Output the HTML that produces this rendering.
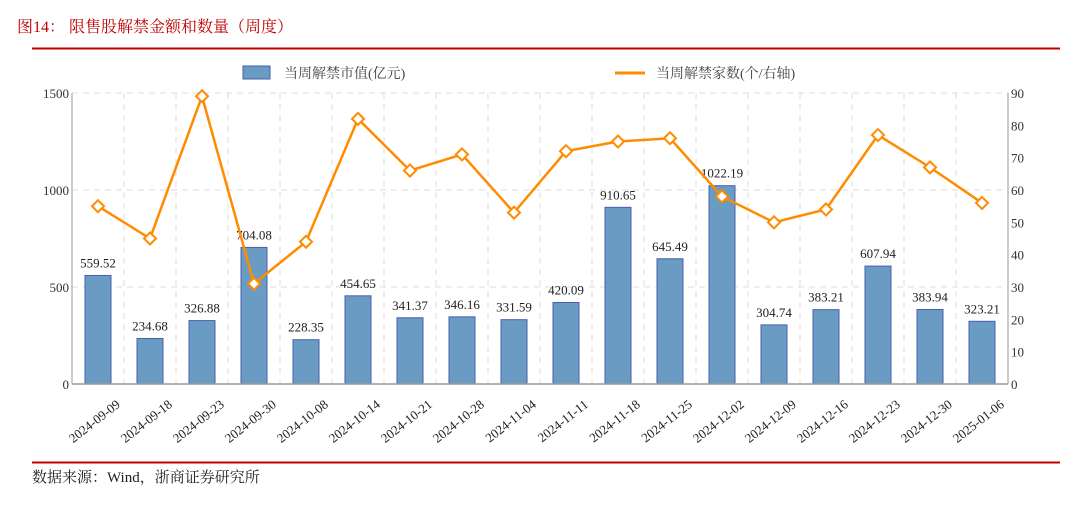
<!DOCTYPE html>
<html><head><meta charset="utf-8"><style>
body{margin:0;background:#fff;}
svg text{font-family:"Liberation Serif","Noto Serif CJK SC",serif;}
</style></head><body>
<svg width="1080" height="506" viewBox="0 0 1080 506" xmlns="http://www.w3.org/2000/svg">
<text x="17" y="32" font-size="16" fill="#c00000">图14：  限售股解禁金额和数量（周度）</text>
<line x1="32" y1="48.5" x2="1060" y2="48.5" stroke="#c00000" stroke-width="2"/>
<g>
<rect x="243" y="66" width="27" height="13" fill="#6a9bc3" stroke="#4a5fb0"/>
<text x="284" y="78" font-size="14" fill="#444">当周解禁市值(亿元)</text>
<line x1="615" y1="73" x2="645" y2="73" stroke="#ff8c00" stroke-width="3"/>
<text x="656" y="78" font-size="14" fill="#444">当周解禁家数(个/右轴)</text>
</g>
<g id="plot"></g>
<line x1="32" y1="462.5" x2="1060" y2="462.5" stroke="#c00000" stroke-width="2"/>
<text x="32" y="482" font-size="15" fill="#222">数据来源：Wind，浙商证券研究所</text>
</svg>
<script>
const categories=["2024-09-09","2024-09-18","2024-09-23","2024-09-30","2024-10-08","2024-10-14","2024-10-21","2024-10-28","2024-11-04","2024-11-11","2024-11-18","2024-11-25","2024-12-02","2024-12-09","2024-12-16","2024-12-23","2024-12-30","2025-01-06"];
const amounts=[559.52,234.68,326.88,704.08,228.35,454.65,341.37,346.16,331.59,420.09,910.65,645.49,1022.19,304.74,383.21,607.94,383.94,323.21];
const counts=[55,45,89,31,44,82,66,71,53,72,75,76,58,50,54,77,67,56];
const leftTicks=[0,500,1000,1500];
const rightTicks=[0,10,20,30,40,50,60,70,80,90];
const NS="http://www.w3.org/2000/svg";
const g=document.getElementById('plot');
const X0=72,X1=1008,Y0=384,Y1=93;
const bw=(X1-X0)/categories.length;
const xc=i=>X0+bw*(i+0.5);
const yL=v=>Y0-(v/1500)*(Y0-Y1);
const yR=v=>Y0-(v/90)*(Y0-Y1);
function mk(t,a){const e=document.createElementNS(NS,t);for(const k in a)e.setAttribute(k,a[k]);g.appendChild(e);return e;}
leftTicks.forEach(v=>{if(v>0){const l=mk('line',{x1:X0,x2:X1,y1:yL(v),y2:yL(v),stroke:'#ddd','stroke-dasharray':'6,5'});

}
const t=mk('text',{x:X0-3,y:yL(v)+5,'font-size':13,'text-anchor':'end',fill:'#333'});t.textContent=v;

});
for(let i=1;i<categories.length;i++){const l=mk('line',{x1:X0+bw*i,x2:X0+bw*i,y1:Y1,y2:Y0,stroke:'#ddd','stroke-dasharray':'6,5'});

}
rightTicks.forEach(v=>{const t=mk('text',{x:X1+3,y:yR(v)+5,'font-size':13,fill:'#333'});t.textContent=v;

});
amounts.forEach((v,i)=>{const r=mk('rect',{x:xc(i)-13,y:yL(v),width:26,height:Y0-yL(v),fill:'#6a9bc3',stroke:'#4a5fb0','stroke-width':1});


const t=mk('text',{x:xc(i),y:yL(v)-8,'font-size':13,'text-anchor':'middle',fill:'#222'});t.textContent=v.toFixed(2);


const c=mk('text',{x:0,y:0,'font-size':13,'text-anchor':'end',fill:'#222',transform:`translate(${xc(i)+23},${Y0+22}) rotate(-38)`});c.textContent=categories[i];

});
const al=mk('line',{x1:X0,x2:X0,y1:Y1,y2:Y0,stroke:'#bbb','stroke-width':1.5});


const ar=mk('line',{x1:X1,x2:X1,y1:Y1,y2:Y0,stroke:'#bbb','stroke-width':1.5});


const ab=mk('line',{x1:X0,x2:X1,y1:Y0,y2:Y0,stroke:'#999','stroke-width':1.5});


const pl=mk('polyline',{points:counts.map((v,i)=>xc(i)+','+yR(v)).join(' '),fill:'none',stroke:'#ff8c00','stroke-width':2.5});


counts.forEach((v,i)=>{const x=xc(i),y=yR(v);const p=mk('polygon',{points:`${x},${y-6} ${x+6},${y} ${x},${y+6} ${x-6},${y}`,fill:'#fff',stroke:'#ff8c00','stroke-width':2});

});
</script>
</body></html>
